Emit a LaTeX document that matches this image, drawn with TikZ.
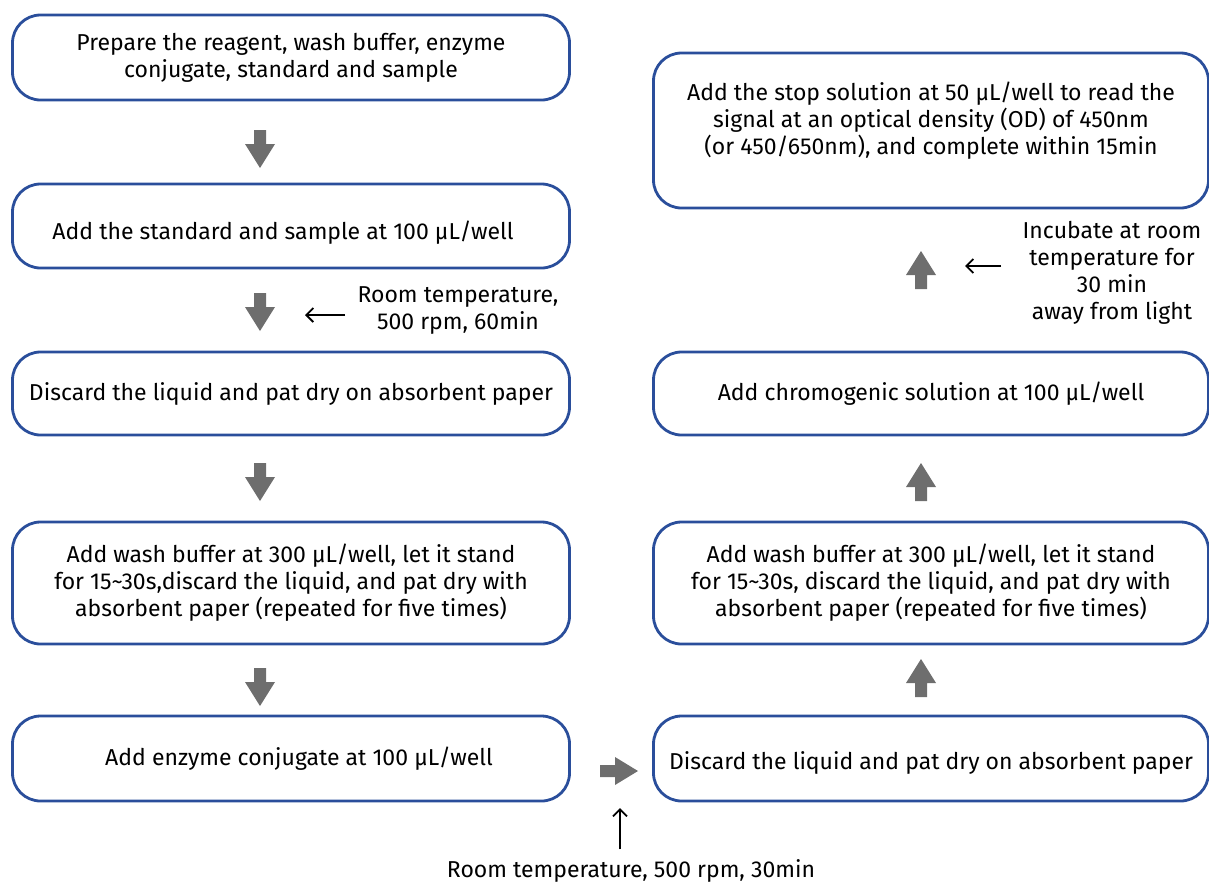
\documentclass[tikz,border=0pt]{standalone}
\usepackage{fontspec}
\setmainfont{Fira Sans}
\usetikzlibrary{calc,arrows.meta}
\definecolor{boxblue}{HTML}{2A4E9B}
\definecolor{arrgray}{HTML}{6E6E6E}
\begin{document}
\begin{tikzpicture}[x=1pt,y=-1pt,
  stepbox/.style={draw=boxblue, line width=2.8pt, rounded corners=28pt, minimum width=557pt, align=center, font=\fontsize{23}{27}\selectfont, inner sep=0pt},
  note/.style={align=center, font=\fontsize{23}{27}\selectfont, inner sep=0pt},
  thinarr/.style={-{Straight Barb[length=7pt,width=14pt]}, line width=1.8pt},
  downarr/.pic={\fill[arrgray] (-6,-19)--(6,-19)--(6,-5)--(15,-5)--(0,19)--(-15,-5)--(-6,-5)--cycle;},
  uparr/.pic={\fill[arrgray] (-6,19)--(6,19)--(6,5)--(15,5)--(0,-19)--(-15,5)--(-6,5)--cycle;},
  rightarr/.pic={\fill[arrgray] (-19,-6)--(-19,6)--(-4,6)--(-4,14)--(19,0)--(-4,-14)--(-4,-6)--cycle;},
]
\useasboundingbox (0,0) rectangle (1209,884);
% left column
\node[stepbox, minimum height=85pt] (b1) at (291,57.5) {Prepare the reagent, wash buffer, enzyme\\conjugate, standard and sample};
\node[stepbox, minimum height=84pt, label={[note, yshift=-7pt, xshift=-8pt]center:Add the standard and sample at 100 µL/well}] (b2) at (291,226) {};
\node[stepbox, minimum height=83pt] (b3) at (291,393.5) {Discard the liquid and pat dry on absorbent paper};
\node[stepbox, minimum height=122pt] (b4) at (291,583) {Add wash buffer at 300 µL/well, let it stand\\for 15\textasciitilde30s,discard the liquid, and pat dry with\\absorbent paper (repeated for five times)};
\node[stepbox, minimum height=85pt, label={[note, xshift=8pt]center:Add enzyme conjugate at 100 µL/well}] (b5) at (291,758.5) {};
% right column
\node[stepbox, minimum width=555pt, minimum height=155pt, label={[note, yshift=10pt]center:Add the stop solution at 50 µL/well to read the\\signal at an optical density (OD) of 450nm\\(or 450/650nm), and complete within 15min}] (r1) at (931,130.5) {};
\node[stepbox, minimum width=555pt, minimum height=83pt] (r2) at (931,393.5) {Add chromogenic solution at 100 µL/well};
\node[stepbox, minimum width=555pt, minimum height=122pt] (r3) at (931,583) {Add wash buffer at 300 µL/well, let it stand\\for 15\textasciitilde30s, discard the liquid, and pat dry with\\absorbent paper (repeated for five times)};
\node[stepbox, minimum width=555pt, minimum height=85pt, label={[note, yshift=-4pt]center:Discard the liquid and pat dry on absorbent paper}] (r4) at (931,758.5) {};
% gray block arrows
\pic at (260,149) {downarr};
\pic at (260,312) {downarr};
\pic at (260,482) {downarr};
\pic at (260,687) {downarr};
\pic at (921,270) {uparr};
\pic at (921,482) {uparr};
\pic at (921,678) {uparr};
\pic at (619,771) {rightarr};
% notes
\node[note] (n1) at (458,311) {Room temperature,\\500 rpm, 60min};
\node[note] (n2) at (1112,273) {Incubate at room\\temperature for\\30 min\\away from light};
\node[note] (n3) at (631,871) {Room temperature, 500 rpm, 30min};
\coordinate (t1) at (305,315);
\coordinate (t2) at (965,266);
\coordinate (t3) at (620,808);
\draw[thinarr] ($(t1)+(40,0)$) -- (t1);
\draw[thinarr] ($(t2)+(36,0)$) -- (t2);
\draw[thinarr] (n3.north -| t3) ++(0,-10) -- (t3);
\end{tikzpicture}
\end{document}
